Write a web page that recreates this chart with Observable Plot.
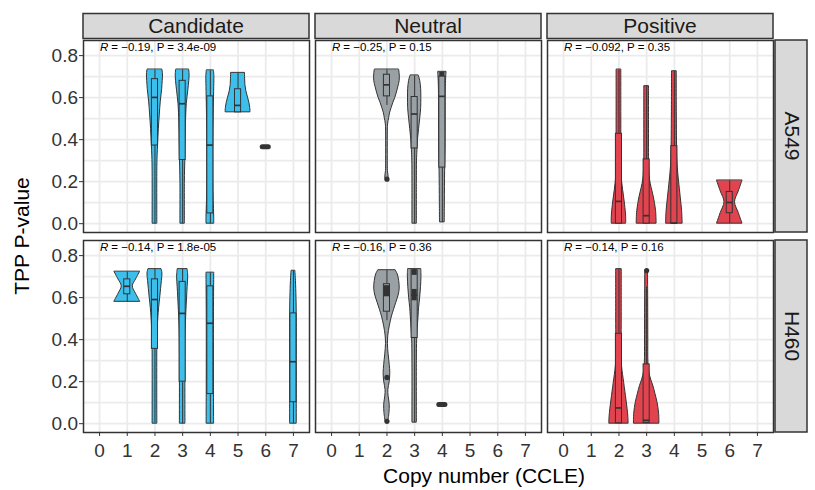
<!DOCTYPE html>
<html><head><meta charset="utf-8">
<script src="https://cdn.jsdelivr.net/npm/d3@7"></script>
<script src="https://cdn.jsdelivr.net/npm/@observablehq/plot@0.6"></script>
<style>body{margin:0;background:#fff;} svg{font-family:"Liberation Sans",Arial,sans-serif;}</style>
</head><body><div id="chart"></div>
<script>
// ---------- data ----------
const groups = ["Candidate", "Neutral", "Positive"];
const cellLines = ["A549", "H460"];
const groupColors = ["#3DBFEC", "#99A1A5", "#E1434F"];
const copyNumbers = [0, 1, 2, 3, 4, 5, 6, 7];
const yTicks = [0, 0.2, 0.4, 0.6, 0.8];
const yGrid = [0, 0.1, 0.2, 0.3, 0.4, 0.5, 0.6, 0.7, 0.8];

// correlation annotations
const corGroup = ["Candidate", "Neutral", "Positive", "Candidate", "Neutral", "Positive"];
const corCell = ["A549", "A549", "A549", "H460", "H460", "H460"];
const corR = ["\u22120.19", "\u22120.25", "\u22120.092", "\u22120.14", "\u22120.16", "\u22120.14"];
const corP = ["3.4e-09", "0.15", "0.35", "1.8e-05", "0.36", "0.16"];

// violin profiles: [P-value, half-width in copy-number units]
const vCanA549_2 = [[0.732,0.27],[0.71,0.29],[0.68,0.28],[0.64,0.26],[0.58,0.21],[0.52,0.175],[0.45,0.14],[0.38,0.115],[0.32,0.095],[0.25,0.085],[0.0,0.085]];
const vCanA549_3 = [[0.732,0.235],[0.71,0.25],[0.68,0.24],[0.63,0.2],[0.57,0.15],[0.48,0.12],[0.38,0.105],[0.30,0.095],[0.2,0.08],[0.0,0.08]];
const vCanA549_4 = [[0.728,0.13],[0.70,0.145],[0.65,0.14],[0.55,0.125],[0.45,0.115],[0.35,0.11],[0.25,0.11],[0.15,0.115],[0.07,0.13],[0.03,0.14],[0.0,0.14]];
const vCanA549_5 = [[0.716,0.25],[0.69,0.255],[0.66,0.265],[0.63,0.3],[0.60,0.36],[0.575,0.41],[0.55,0.44],[0.53,0.45]];
const vNeuA549_2 = [[0.732,0.44],[0.71,0.46],[0.68,0.46],[0.65,0.41],[0.62,0.35],[0.598,0.30],[0.575,0.23],[0.551,0.17],[0.525,0.11],[0.503,0.08],[0.472,0.04],[0.42,0.03],[0.3,0.03],[0.25,0.035],[0.22,0.06],[0.205,0.03]];
const vNeuA549_3 = [[0.704,0.15],[0.68,0.2],[0.64,0.235],[0.60,0.24],[0.55,0.235],[0.50,0.2],[0.45,0.16],[0.40,0.12],[0.35,0.1],[0.3,0.085],[0.2,0.08],[0.0,0.08]];
const vNeuA549_4 = [[0.721,0.15],[0.70,0.14],[0.65,0.125],[0.5,0.12],[0.35,0.115],[0.25,0.1],[0.1,0.09],[0.006,0.085]];
const vPosA549_2 = [[0.732,0.085],[0.5,0.085],[0.3,0.09],[0.22,0.1],[0.16,0.15],[0.09,0.22],[0.03,0.26],[0.0,0.26]];
const vPosA549_3 = [[0.653,0.085],[0.45,0.085],[0.28,0.09],[0.21,0.12],[0.17,0.18],[0.125,0.26],[0.06,0.34],[0.0,0.36]];
const vPosA549_4 = [[0.724,0.085],[0.5,0.09],[0.3,0.11],[0.24,0.14],[0.2,0.17],[0.125,0.23],[0.06,0.28],[0.0,0.30]];
const vPosA549_6 = [[0.204,0.46],[0.153,0.325],[0.102,0.19],[0.051,0.325],[0.0,0.46]];
const vCanH460_1 = [[0.722,0.46],[0.687,0.32],[0.654,0.2],[0.617,0.32],[0.58,0.47]];
const vCanH460_2 = [[0.734,0.24],[0.715,0.27],[0.68,0.25],[0.64,0.22],[0.60,0.19],[0.55,0.15],[0.5,0.12],[0.42,0.095],[0.35,0.085],[0.0,0.085]];
const vCanH460_3 = [[0.734,0.18],[0.70,0.2],[0.65,0.18],[0.6,0.16],[0.52,0.13],[0.45,0.11],[0.35,0.1],[0.0,0.1]];
const vCanH460_4 = [[0.717,0.14],[0.5,0.13],[0.2,0.13],[0.0,0.135]];
const vCanH460_7 = [[0.726,0.07],[0.68,0.09],[0.6,0.11],[0.5,0.12],[0.3,0.12],[0.0,0.12]];
const vNeuH460_2 = [[0.729,0.32],[0.71,0.39],[0.68,0.44],[0.643,0.46],[0.61,0.42],[0.573,0.33],[0.54,0.25],[0.51,0.18],[0.463,0.10],[0.42,0.05],[0.38,0.035],[0.33,0.06],[0.28,0.1],[0.24,0.12],[0.20,0.1],[0.16,0.05],[0.13,0.06],[0.09,0.1],[0.05,0.09],[0.011,0.05]];
const vNeuH460_3 = [[0.734,0.24],[0.70,0.245],[0.65,0.23],[0.60,0.2],[0.55,0.16],[0.51,0.14],[0.45,0.11],[0.40,0.09],[0.3,0.08],[0.005,0.08]];
const vPosH460_2 = [[0.734,0.1],[0.5,0.1],[0.3,0.1],[0.25,0.13],[0.212,0.17],[0.133,0.25],[0.071,0.31],[0.03,0.34],[0.0,0.35]];
const vPosH460_3 = [[0.727,0.05],[0.6,0.055],[0.4,0.06],[0.29,0.065],[0.243,0.1],[0.21,0.16],[0.18,0.24],[0.14,0.32],[0.102,0.39],[0.047,0.45],[0.0,0.46]];

const violins = [
  {group:"Candidate", cell:"A549", cn:2, profile:vCanA549_2},
  {group:"Candidate", cell:"A549", cn:3, profile:vCanA549_3},
  {group:"Candidate", cell:"A549", cn:4, profile:vCanA549_4},
  {group:"Candidate", cell:"A549", cn:5, profile:vCanA549_5},
  {group:"Neutral", cell:"A549", cn:2, profile:vNeuA549_2},
  {group:"Neutral", cell:"A549", cn:3, profile:vNeuA549_3},
  {group:"Neutral", cell:"A549", cn:4, profile:vNeuA549_4},
  {group:"Positive", cell:"A549", cn:2, profile:vPosA549_2},
  {group:"Positive", cell:"A549", cn:3, profile:vPosA549_3},
  {group:"Positive", cell:"A549", cn:4, profile:vPosA549_4},
  {group:"Positive", cell:"A549", cn:6, profile:vPosA549_6},
  {group:"Candidate", cell:"H460", cn:1, profile:vCanH460_1},
  {group:"Candidate", cell:"H460", cn:2, profile:vCanH460_2},
  {group:"Candidate", cell:"H460", cn:3, profile:vCanH460_3},
  {group:"Candidate", cell:"H460", cn:4, profile:vCanH460_4},
  {group:"Candidate", cell:"H460", cn:7, profile:vCanH460_7},
  {group:"Neutral", cell:"H460", cn:2, profile:vNeuH460_2},
  {group:"Neutral", cell:"H460", cn:3, profile:vNeuH460_3},
  {group:"Positive", cell:"H460", cn:2, profile:vPosH460_2},
  {group:"Positive", cell:"H460", cn:3, profile:vPosH460_3}
];

// boxplot statistics
const boxGroup = ["Candidate","Candidate","Candidate","Candidate","Neutral","Neutral","Neutral","Positive","Positive","Positive","Positive",
                  "Candidate","Candidate","Candidate","Candidate","Candidate","Neutral","Neutral","Positive","Positive"];
const boxCell  = ["A549","A549","A549","A549","A549","A549","A549","A549","A549","A549","A549",
                  "H460","H460","H460","H460","H460","H460","H460","H460","H460"];
const boxCN    = [2,3,4,5,2,3,4,2,3,4,6, 1,2,3,4,7,2,3,2,3];
const boxLo    = [0,0,0,0.53,0.563,0,0.006,0,0,0,0, 0.58,0.003,0,0,0,0.49,0.005,0,0];
const boxQ1    = [0.372,0.303,0.049,0.53,0.606,0.358,0.267,0.0,0.0,0.0,0.05, 0.616,0.356,0.2,0.141,0.102,0.533,0.408,0.002,0.003];
const boxMed   = [0.601,0.571,0.374,0.563,0.661,0.522,0.606,0.106,0.038,0.003,0.101, 0.654,0.591,0.525,0.478,0.295,0.612,0.612,0.075,0.016];
const boxQ3    = [0.688,0.680,0.606,0.640,0.709,0.603,0.700,0.428,0.306,0.369,0.151, 0.687,0.687,0.675,0.654,0.525,0.664,0.73,0.428,0.282];
const boxHi    = [0.732,0.732,0.728,0.716,0.732,0.704,0.721,0.732,0.653,0.724,0.204, 0.722,0.734,0.734,0.717,0.726,0.729,0.734,0.734,0.651];

// outliers
const outGroup = ["Neutral","Neutral","Neutral","Positive"];
const outCell  = ["A549","H460","H460","H460"];
const outCN    = [2,2,2,3];
const outValue = [0.212,0.22,0.011,0.729];

// groups where every value is the same (collapsed violin)
const singleGroup = ["Candidate","Neutral"];
const singleCell  = ["A549","H460"];
const singleCN    = [6,4];
const singleValue = [0.366,0.091];

// dense overplotted stretches inside boxes
const denseGroup = ["Neutral","Neutral","Neutral","Neutral"];
const denseCell  = ["A549","H460","H460","H460"];
const denseCN    = [4,2,3,3];
const denseLo    = [0.70,0.604,0.706,0.585];
const denseHi    = [0.721,0.657,0.732,0.639];

// ---------- tables ----------
const violinPts = violins.flatMap((d, i) => d.profile.map(([v, hw]) => ({id: i, group: d.group, cell: d.cell, cn: d.cn, v, hw})));
const boxes = boxGroup.map((g, i) => ({group: g, cell: boxCell[i], cn: boxCN[i], lo: boxLo[i], q1: boxQ1[i], med: boxMed[i], q3: boxQ3[i], hi: boxHi[i]}));
const outliers = outGroup.map((g, i) => ({group: g, cell: outCell[i], cn: outCN[i], v: outValue[i]}));
const singles = singleGroup.map((g, i) => ({group: g, cell: singleCell[i], cn: singleCN[i], v: singleValue[i]}));
const dense = denseGroup.map((g, i) => ({group: g, cell: denseCell[i], cn: denseCN[i], lo: denseLo[i], hi: denseHi[i]}));
const cors = corGroup.map((g, i) => ({group: g, cell: corCell[i], r: corR[i], p: corP[i]}));

const BW = 0.11; // box half-width
const dark = "#333333";
const ff = "Liberation Sans, Arial, sans-serif";

const plot = Plot.plot({
  width: 815, height: 490,
  marginLeft: 82, marginRight: 42, marginTop: 39, marginBottom: 58,
  x: {domain: [-0.58, 7.58]},
  y: {domain: [-0.042, 0.872]},
  fx: {domain: groups, padding: 0.028, paddingInner: 0.028, paddingOuter: 0, axis: null},
  fy: {domain: cellLines, padding: 0.04, paddingInner: 0.04, paddingOuter: 0, axis: null},
  color: {domain: groups, range: groupColors},
  style: {fontFamily: ff, background: "white"},
  marks: [
    Plot.ruleY(yGrid, {stroke: "#ebebeb", strokeWidth: 1.7}),
    Plot.ruleX(copyNumbers, {stroke: "#ebebeb", strokeWidth: 1.8}),
    Plot.areaX(violinPts, {fx: "group", fy: "cell", y: "v", x1: d => d.cn - d.hw, x2: d => d.cn + d.hw, z: "id",
      fill: "group", stroke: dark, strokeWidth: 1, curve: "catmull-rom"}),
    Plot.ruleX(boxes, {fx: "group", fy: "cell", x: "cn", y1: "q3", y2: "hi", stroke: dark, strokeWidth: 1}),
    Plot.ruleX(boxes, {fx: "group", fy: "cell", x: "cn", y1: "lo", y2: "q1", stroke: dark, strokeWidth: 1}),
    Plot.rect(boxes, {fx: "group", fy: "cell", x1: d => d.cn - BW, x2: d => d.cn + BW, y1: "q1", y2: "q3",
      fill: "group", stroke: dark, strokeWidth: 1}),
    Plot.rect(dense, {fx: "group", fy: "cell", x1: d => d.cn - BW * 0.85, x2: d => d.cn + BW * 0.85, y1: "lo", y2: "hi", fill: dark}),
    Plot.ruleY(boxes, {fx: "group", fy: "cell", y: "med", x1: d => d.cn - BW, x2: d => d.cn + BW, stroke: dark, strokeWidth: 1.7}),
    Plot.dot(outliers, {fx: "group", fy: "cell", x: "cn", y: "v", r: 2.6, fill: dark, stroke: "none"}),
    Plot.ruleY(singles, {fx: "group", fy: "cell", y: "v", x1: d => d.cn - BW, x2: d => d.cn + BW, stroke: dark,
      strokeWidth: 5, strokeLinecap: "round"}),
    Plot.text(cors, {fx: "group", fy: "cell", frameAnchor: "top-left", text: () => "R", fontStyle: "italic",
      dx: 16.5, dy: 7, lineAnchor: "middle", textAnchor: "start", fontSize: 11.5, fill: "black"}),
    Plot.text(cors, {fx: "group", fy: "cell", frameAnchor: "top-left", text: d => ` = ${d.r}, P = ${d.p}`,
      dx: 24.6, dy: 7, lineAnchor: "middle", textAnchor: "start", fontSize: 11.5, fill: "black"}),
    Plot.frame({stroke: dark, strokeWidth: 1.5}),
    Plot.axisY({ticks: yTicks, tickFormat: d3.format(".1f"), tickSize: 4, tickPadding: 1.5, fontSize: 19, color: dark, label: null}),
    Plot.axisX({ticks: copyNumbers, tickFormat: d3.format("d"), tickSize: 4, tickPadding: 7, fontSize: 19, color: dark, label: null})
  ]
});

document.getElementById("chart").appendChild(plot);

// ---------- facet strips and axis titles ----------
const svg = d3.select(plot);
const fxs = plot.scale("fx"), fys = plot.scale("fy");
const rightEdge = fxs.apply(groups[groups.length - 1]) + fxs.bandwidth;
const topEdge = fys.apply(cellLines[0]);
groups.forEach(g => {
  const x0 = fxs.apply(g);
  svg.append("rect").attr("x", x0).attr("y", topEdge - 26.5).attr("width", fxs.bandwidth).attr("height", 25)
    .attr("fill", "#d9d9d9").attr("stroke", dark).attr("stroke-width", 1.5);
  svg.append("text").attr("x", x0 + fxs.bandwidth / 2).attr("y", topEdge - 7.3).attr("text-anchor", "middle")
    .attr("font-family", ff).attr("font-size", 21).attr("fill", "#1a1a1a").text(g);
});
cellLines.forEach(c => {
  const y0 = fys.apply(c);
  svg.append("rect").attr("x", rightEdge + 2).attr("y", y0).attr("width", 32).attr("height", fys.bandwidth)
    .attr("fill", "#d9d9d9").attr("stroke", dark).attr("stroke-width", 1.5);
  svg.append("text").attr("transform", `translate(${rightEdge + 12},${y0 + fys.bandwidth / 2}) rotate(90)`)
    .attr("text-anchor", "middle").attr("font-family", ff).attr("font-size", 21).attr("fill", "#1a1a1a").text(c);
});
svg.append("text").attr("transform", `translate(28.5,236) rotate(-90)`).attr("text-anchor", "middle")
  .attr("font-family", ff).attr("font-size", 21).attr("fill", "black").text("TPP P-value");
svg.append("text").attr("x", 484).attr("y", 482.5).attr("text-anchor", "middle")
  .attr("font-family", ff).attr("font-size", 21).attr("fill", "black").text("Copy number (CCLE)");
</script>
</body></html>
